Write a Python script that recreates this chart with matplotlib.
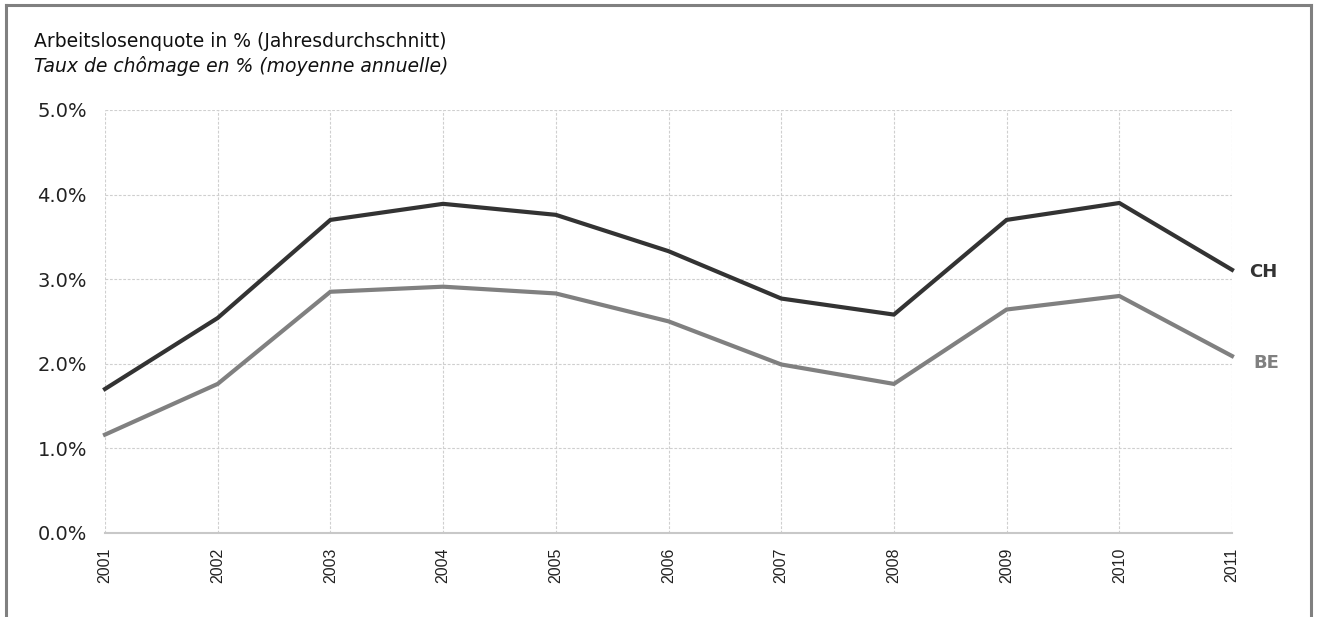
import matplotlib
matplotlib.use("Agg")
import matplotlib.pyplot as plt
from matplotlib.lines import Line2D
from matplotlib.ticker import FuncFormatter

plt.rcParams['font.family'] = ['DejaVu Sans']

years = [2001, 2002, 2003, 2004, 2005, 2006, 2007, 2008, 2009, 2010, 2011]
ch = [1.70, 2.54, 3.70, 3.89, 3.76, 3.33, 2.77, 2.58, 3.70, 3.90, 3.11]
be = [1.16, 1.76, 2.85, 2.91, 2.83, 2.50, 1.99, 1.76, 2.64, 2.80, 2.09]
series_names = ["CH", "BE"]
title_de = "Arbeitslosenquote in % (Jahresdurchschnitt)"
title_fr = "Taux de chômage en % (moyenne annuelle)"

W, H = 1318, 617
fig = plt.figure(figsize=(W / 100, H / 100), dpi=100)
ax = fig.add_axes([105 / W, 1 - 532.7 / H, (1232 - 105) / W, (532.7 - 110) / H])

ax.plot(years, ch, color="#333333", lw=3.0, solid_joinstyle="miter", zorder=3, clip_on=False)
ax.plot(years, be, color="#808080", lw=3.0, solid_joinstyle="miter", zorder=3, clip_on=False)

ax.set_xlim(years[0], years[-1])
ax.set_ylim(0, 5)
ax.set_xticks(years)
ax.set_xticklabels([str(y) for y in years], rotation=90, fontsize=11.5,
                   color="#222222", family=["Liberation Sans", "DejaVu Sans"])
ax.set_yticks([0, 1, 2, 3, 4, 5])
ax.yaxis.set_major_formatter(FuncFormatter(lambda v, p: f"{v:.1f}%"))
ax.tick_params(axis="y", length=0, pad=13, labelsize=14, labelcolor="#222222")
ax.tick_params(axis="x", length=0, pad=11)

ax.grid(True, color="#cfcfcf", linestyle=(0, (2.5, 1.5)), linewidth=0.8)
for s in ["top", "right", "left"]:
    ax.spines[s].set_visible(False)
ax.spines["bottom"].set_color("#c8c8c8")
ax.spines["bottom"].set_linewidth(1.5)
ax.set_axisbelow(True)

ax.annotate(series_names[0], xy=(years[-1], ch[-1]), xytext=(17, -2), textcoords="offset pixels",
            fontsize=13, fontweight="bold", color="#333333", va="center", ha="left", annotation_clip=False)
ax.annotate(series_names[1], xy=(years[-1], be[-1]), xytext=(21, -7), textcoords="offset pixels",
            fontsize=13, fontweight="bold", color="#808080", va="center", ha="left", annotation_clip=False)

fig.text(34 / W, 1 - 47 / H, title_de, fontsize=13.5, color="#111111", va="baseline", ha="left")
fig.text(34 / W, 1 - 72 / H, title_fr, fontsize=13.5, style="italic", color="#111111", va="baseline", ha="left")

# outer frame
fc = "#808080"
fig.add_artist(Line2D([6 / W, 6 / W], [0, 1 - 5 / H], transform=fig.transFigure, color=fc, lw=2.2))
fig.add_artist(Line2D([6 / W, 1311 / W], [1 - 5 / H, 1 - 5 / H], transform=fig.transFigure, color=fc, lw=2.2))
fig.add_artist(Line2D([1311 / W, 1311 / W], [0, 1 - 5 / H], transform=fig.transFigure, color=fc, lw=2.2))

fig.savefig("out.png", dpi=100, facecolor="white")
